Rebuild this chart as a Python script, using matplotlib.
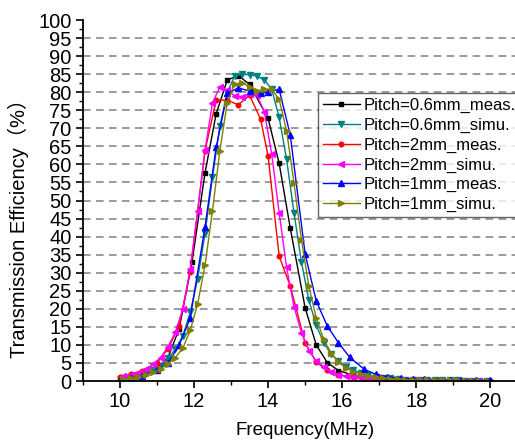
import matplotlib
matplotlib.use("Agg")
import matplotlib.pyplot as plt
from matplotlib.ticker import MultipleLocator

plt.rcParams['font.family'] = ['Liberation Sans', 'Noto Sans CJK SC', 'DejaVu Sans']

f_black = [10.0, 10.3, 10.6, 11.0, 11.3, 11.6, 11.95, 12.3, 12.6, 12.9, 13.2, 13.5,
           14.0, 14.3, 14.6, 15.0, 15.3, 15.6, 15.9, 16.3, 16.6, 16.9, 17.2, 17.6,
           17.9, 18.2, 18.6, 18.9, 19.2, 19.6, 20.0]
eff_black = [0.8, 1.2, 1.8, 3.2, 6.5, 14.4, 33.0, 57.7, 74.0, 83.4, 84.6, 82.2,
             72.8, 60.3, 42.3, 20.3, 10.0, 5.1, 2.9, 1.6, 1.0, 0.6, 0.4, 0.3,
             0.2, 0.2, 0.1, 0.1, 0.1, 0.1, 0.1]

f_red = [10.0, 10.3, 10.6, 11.0, 11.3, 11.6, 11.9, 12.3, 12.6, 12.9, 13.2, 13.5,
         13.8, 14.0, 14.3, 14.6, 15.0, 15.3, 15.6, 15.9, 16.3, 16.6, 16.9, 17.2,
         17.6, 17.9, 18.2, 18.6, 18.9, 19.2, 19.6, 20.0]
eff_red = [1.0, 1.9, 2.9, 5.0, 8.9, 15.3, 30.3, 63.8, 77.8, 77.8, 76.5, 79.2,
           72.5, 62.4, 34.6, 26.3, 10.6, 5.2, 3.0, 1.8, 1.0, 0.6, 0.4, 0.3,
           0.2, 0.2, 0.1, 0.1, 0.1, 0.1, 0.1, 0.1]

f_blue = [10.0, 10.3, 10.6, 11.0, 11.3, 11.6, 11.9, 12.3, 12.6, 12.9, 13.2, 13.5,
          13.8, 14.0, 14.3, 14.6, 15.0, 15.3, 15.6, 15.9, 16.2, 16.6, 16.9, 17.2,
          17.6, 17.9, 18.2, 18.6, 18.9, 19.2, 19.6, 20.0]
eff_blue = [0.3, 0.8, 1.5, 3.0, 4.9, 9.9, 17.4, 42.7, 64.7, 79.7, 81.2, 80.3,
            79.7, 80.0, 80.8, 68.1, 35.2, 22.2, 15.2, 10.6, 6.6, 3.2, 1.9, 1.2,
            0.8, 0.6, 0.5, 0.4, 0.3, 0.3, 0.2, 0.2]

# simulated frequencies (MHz)
f_sim = [10.1, 10.3, 10.5, 10.7, 10.9, 11.1, 11.3, 11.5, 11.7, 11.9,
         12.1, 12.3, 12.5, 12.7, 12.9, 13.1, 13.3, 13.5, 13.7, 13.9,
         14.1, 14.3, 14.5, 14.7, 14.9, 15.1, 15.3, 15.5, 15.7, 15.9,
         16.1, 16.3, 16.5, 16.7, 16.9, 17.1, 17.3, 17.5, 17.7, 17.9,
         18.1, 18.3, 18.5, 18.7, 18.9, 19.1, 19.3, 19.5, 19.7, 19.9]
eff_teal = [0.8, 1.1, 1.5, 2.1, 3.0, 4.3, 6.3, 8.8, 12.5, 19.0,
            28.2, 40.9, 56.4, 70.6, 80.0, 84.5, 85.0, 84.8, 84.5, 83.4,
            80.8, 73.0, 61.4, 46.6, 33.0, 22.4, 15.5, 10.6, 7.5, 5.5,
            4.0, 3.0, 2.2, 1.6, 1.2, 0.9, 0.7, 0.5, 0.4, 0.35,
            0.3, 0.25, 0.2, 0.2, 0.15, 0.15, 0.1, 0.1, 0.1, 0.1]
eff_magenta = [1.3, 1.7, 2.3, 3.2, 4.6, 6.5, 9.5, 13.5, 20.0, 31.0,
               47.0, 64.0, 77.0, 81.5, 80.5, 79.0, 78.8, 79.4, 79.2, 74.6,
               62.8, 46.6, 31.5, 20.6, 13.4, 8.4, 5.6, 4.0, 2.6, 1.8,
               1.3, 1.0, 0.8, 0.6, 0.5, 0.4, 0.3, 0.3, 0.2, 0.2,
               0.2, 0.1, 0.1, 0.1, 0.1, 0.1, 0.1, 0.1, 0.1, 0.1]
eff_olive = [0.5, 0.8, 1.2, 1.7, 2.4, 3.4, 4.8, 6.5, 9.1, 14.0,
             21.3, 32.1, 47.1, 63.8, 77.1, 82.3, 82.6, 81.5, 80.4, 80.8,
             80.8, 78.0, 69.3, 54.9, 39.2, 26.3, 17.5, 11.6, 7.8, 5.2,
             3.6, 2.6, 1.9, 1.4, 1.0, 0.8, 0.6, 0.5, 0.4, 0.35,
             0.3, 0.25, 0.2, 0.2, 0.15, 0.15, 0.1, 0.1, 0.1, 0.1]

fig = plt.figure(figsize=(5.15, 4.41), dpi=100)
ax = fig.add_axes([0.1606, 0.136, 0.8637, 0.8186])

# dashed grid lines at every 5 %, except 0 and 100
for level in range(5, 100, 5):
    ax.axhline(level, color="#808080", linestyle=(0, (5, 3.5)), linewidth=1.1, zorder=0)

ms = 3.3
ax.plot(f_black, eff_black, color="black", marker="s", ms=ms, lw=1, label="Pitch=0.6mm_meas.")
ax.plot(f_sim, eff_teal, color="#008080", marker="v", ms=ms + 0.4, lw=1, label="Pitch=0.6mm_simu.")
ax.plot(f_red, eff_red, color="red", marker="o", ms=ms, lw=1, label="Pitch=2mm_meas.")
ax.plot(f_sim, eff_magenta, color="magenta", marker="<", ms=ms + 0.4, lw=1, label="Pitch=2mm_simu.")
ax.plot(f_blue, eff_blue, color="blue", marker="^", ms=ms + 0.4, lw=1, label="Pitch=1mm_meas.")
ax.plot(f_sim, eff_olive, color="#808000", marker=">", ms=ms + 0.4, lw=1, label="Pitch=1mm_simu.")

ax.set_xlim(9, 21)
ax.set_ylim(0, 100)
ax.xaxis.set_major_locator(MultipleLocator(2))
ax.xaxis.set_minor_locator(MultipleLocator(1))
ax.yaxis.set_major_locator(MultipleLocator(5))
ax.yaxis.set_minor_locator(MultipleLocator(2.5))
ax.tick_params(which="major", length=5, width=1.2, labelsize=14.5, pad=3)
ax.tick_params(which="minor", length=3, width=1.0)

ax.spines["top"].set_visible(False)
ax.spines["right"].set_visible(False)
ax.spines["left"].set_linewidth(1.3)
ax.spines["bottom"].set_linewidth(1.3)

ax.set_xlabel("Frequency(MHz)", fontsize=13.5, labelpad=8)
ax.set_ylabel("Transmission Efficiency（%）", fontsize=14.5)
ax.yaxis.set_label_coords(-0.12, 0.436)

leg = ax.legend(loc="upper left", bbox_to_anchor=(318 / 515, 1 - 93 / 441),
                bbox_transform=fig.transFigure, fontsize=12, frameon=True,
                fancybox=False, labelspacing=0.28, handlelength=2.2,
                handletextpad=0.25, borderpad=0.3, borderaxespad=0)
leg.get_frame().set_edgecolor("#404040")
leg.get_frame().set_linewidth(1.0)

fig.savefig("out.png", dpi=100)
